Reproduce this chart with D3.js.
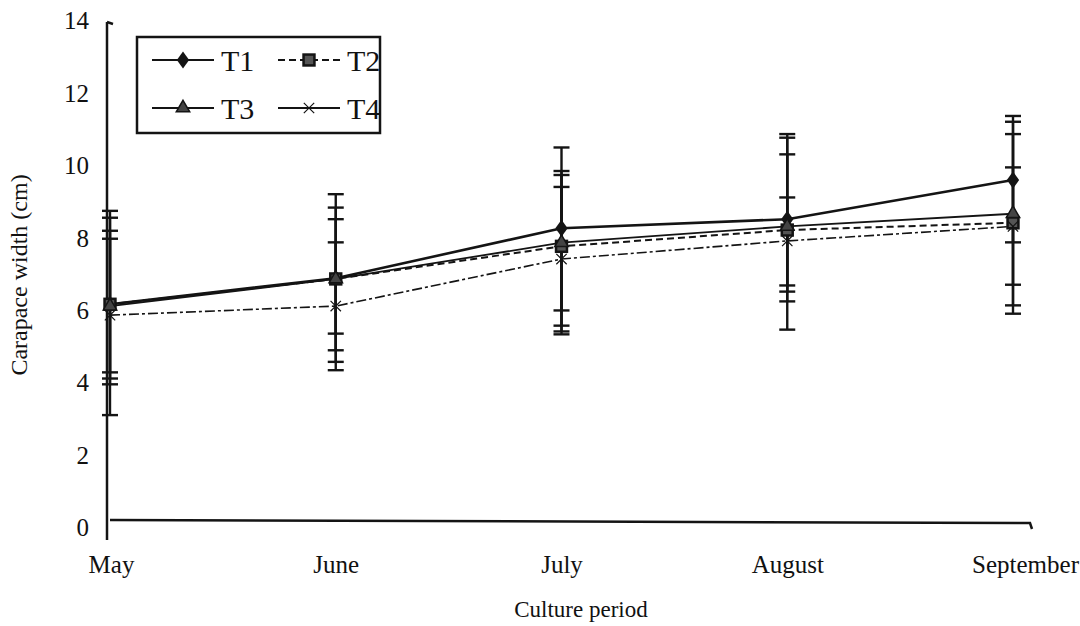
<!DOCTYPE html>
<html>
<head>
<meta charset="utf-8">
<script src="https://cdn.jsdelivr.net/npm/d3@7"></script>
<style>
  body { margin: 0; background: #fff; }
  text { font-family: "Liberation Serif", "Times New Roman", serif; fill: #111; }
</style>
</head>
<body>
<div id="chart"></div>
<script>
// Culture period (x categories)
const months = ["May", "June", "July", "August", "September"];
const series = ["T1", "T2", "T3", "T4"];
const yTicks = [0, 2, 4, 6, 8, 10, 12, 14];

// Mean carapace width (cm) per treatment
const meanT1 = [6.15, 6.87, 8.25, 8.50, 9.58];
const meanT2 = [6.15, 6.85, 7.75, 8.20, 8.40];
const meanT3 = [6.10, 6.85, 7.85, 8.30, 8.65];
const meanT4 = [5.85, 6.10, 7.40, 7.90, 8.30];

// Error bar ends (upper / lower)
const hiT1 = [8.73, 9.19, 10.48, 10.85, 11.35];
const loT1 = [3.09, 4.56, 5.98, 6.23, 7.86];
const hiT2 = [8.54, 8.82, 9.83, 10.75, 11.19];
const loT2 = [3.94, 4.88, 5.56, 5.45, 5.89];
const hiT3 = [8.18, 8.50, 9.72, 10.29, 10.85];
const loT3 = [4.27, 5.34, 5.32, 6.67, 6.69];
const hiT4 = [7.96, 7.86, 9.39, 9.10, 9.93];
const loT4 = [4.10, 4.33, 5.40, 6.50, 6.12];

const means = [meanT1, meanT2, meanT3, meanT4];
const his = [hiT1, hiT2, hiT3, hiT4];
const los = [loT1, loT2, loT3, loT4];

const width = 1080, height = 626;
const ink = "#141414";

const x = d3.scalePoint().domain(months).range([110, 1013]);
const y = d3.scaleLinear().domain([0, 14]).range([527, 20]);

const svg = d3.select("#chart").append("svg")
    .attr("width", width)
    .attr("height", height);

// axes lines
svg.append("line")
    .attr("x1", 107).attr("x2", 107)
    .attr("y1", y(14) + 2).attr("y2", 540)
    .attr("stroke", ink).attr("stroke-width", 2.5);
svg.append("line")
    .attr("x1", 107).attr("x2", 113)
    .attr("y1", y(14) + 2).attr("y2", y(14) + 4)
    .attr("stroke", ink).attr("stroke-width", 2.5);
svg.append("path")
    .attr("d", `M110,${y(0) - 7}L1030,${y(0) - 4}L1032,${y(0) + 2}`)
    .attr("fill", "none")
    .attr("stroke", ink).attr("stroke-width", 2.5);

// y tick labels
const yAxis = d3.axisLeft(y).tickValues(yTicks).tickSize(0).tickPadding(0);
const gy = svg.append("g").attr("transform", "translate(89,0)").call(yAxis);
gy.select(".domain").remove();
gy.selectAll("text")
    .attr("font-size", 25)
    .attr("font-family", "Liberation Serif, serif")
    .attr("dy", "0.35em")
    .attr("fill", ink);

// x tick labels
const xAxis = d3.axisBottom(x).tickSize(0).tickPadding(0);
const gx = svg.append("g").attr("transform", "translate(0,555)").call(xAxis);
gx.select(".domain").remove();
gx.selectAll("text")
    .attr("font-size", 25)
    .attr("font-family", "Liberation Serif, serif")
    .attr("fill", ink)
    .attr("transform", d => d === "September" ? "translate(12,0)" : d === "May" ? "translate(1,0)" : null);

// axis titles
svg.append("text")
    .attr("x", 581).attr("y", 617)
    .attr("text-anchor", "middle")
    .attr("font-size", 23)
    .text("Culture period");
svg.append("text")
    .attr("transform", "translate(27,275) rotate(-90)")
    .attr("text-anchor", "middle")
    .attr("font-size", 24)
    .text("Carapace width (cm)");

// line styles per series
const dash = [null, "7,4", null, "10,3,3,3"];
const lw = [2.6, 2, 1.8, 1.6];

// error bars
series.forEach((s, i) => {
  const g = svg.append("g").attr("stroke", ink).attr("stroke-width", 2.4);
  months.forEach((m, j) => {
    const cx = x(m);
    g.append("line").attr("x1", cx).attr("x2", cx)
        .attr("y1", y(his[i][j])).attr("y2", y(los[i][j]));
    g.append("line").attr("x1", cx - 8).attr("x2", cx + 8)
        .attr("y1", y(his[i][j])).attr("y2", y(his[i][j]));
    g.append("line").attr("x1", cx - 8).attr("x2", cx + 8)
        .attr("y1", y(los[i][j])).attr("y2", y(los[i][j]));
  });
});

// series lines
const line = d3.line().x((d, j) => x(months[j])).y(d => y(d));
series.forEach((s, i) => {
  svg.append("path")
      .datum(means[i])
      .attr("d", line)
      .attr("fill", "none")
      .attr("stroke", ink)
      .attr("stroke-width", lw[i])
      .attr("stroke-dasharray", dash[i]);
});

// markers
function marker(g, i, cx, cy, size) {
  if (i === 0) {
    g.append("path").attr("d", d3.symbol(d3.symbolDiamond, size * 1.4)())
        .attr("transform", `translate(${cx},${cy}) scale(1.25,1)`)
        .attr("fill", ink);
  } else if (i === 1) {
    g.append("rect").attr("x", cx - size / 11).attr("y", cy - size / 11)
        .attr("width", size / 5.5).attr("height", size / 5.5)
        .attr("fill", "#555").attr("stroke", ink).attr("stroke-width", 2.5);
  } else if (i === 2) {
    g.append("path").attr("d", d3.symbol(d3.symbolTriangle, size * 1.3)())
        .attr("transform", `translate(${cx},${cy})`)
        .attr("fill", "#444").attr("stroke", ink).attr("stroke-width", 1.5);
  } else {
    g.append("path").attr("d", d3.symbol(d3.symbolTimes, size * 1.2)())
        .attr("transform", `translate(${cx},${cy})`)
        .attr("fill", "none").attr("stroke", ink).attr("stroke-width", 1.2);
  }
}
series.forEach((s, i) => {
  const g = svg.append("g");
  means[i].forEach((v, j) => marker(g, i, x(months[j]), y(v), 60));
});

// legend
const lg = svg.append("g");
lg.append("rect")
    .attr("x", 137).attr("y", 37).attr("width", 243).attr("height", 96)
    .attr("fill", "#fff").attr("stroke", ink).attr("stroke-width", 2.5);
const legPos = [[152, 60], [278, 60], [152, 108], [278, 108]];
series.forEach((s, i) => {
  const [lx, ly] = legPos[i];
  lg.append("line")
      .attr("x1", lx).attr("x2", lx + 62)
      .attr("y1", ly).attr("y2", ly)
      .attr("stroke", ink).attr("stroke-width", 1.8)
      .attr("stroke-dasharray", i === 1 ? "7,4" : null);
  marker(lg, i, lx + 31, ly, 60);
  lg.append("text")
      .attr("x", lx + 69).attr("y", ly)
      .attr("dy", "0.35em")
      .attr("font-size", 30)
      .text(s);
});
</script>
</body>
</html>
